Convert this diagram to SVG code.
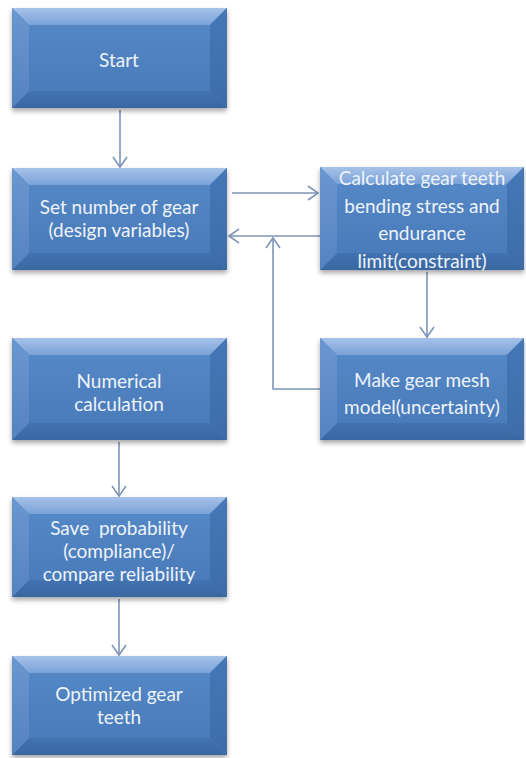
<svg xmlns="http://www.w3.org/2000/svg" width="526" height="758" viewBox="0 0 526 758">
<defs>
<linearGradient id="gTop" x1="0" y1="0" x2="0" y2="1"><stop offset="0" stop-color="#A6C2E8"/><stop offset="1" stop-color="#7AA2D8"/></linearGradient>
<linearGradient id="gBot" x1="0" y1="0" x2="0" y2="1"><stop offset="0" stop-color="#4272B0"/><stop offset="1" stop-color="#3A67A2"/></linearGradient>
<linearGradient id="gLeft" x1="0" y1="0" x2="0" y2="1"><stop offset="0" stop-color="#6B97D0"/><stop offset="1" stop-color="#5583C0"/></linearGradient>
<linearGradient id="gRight" x1="0" y1="0" x2="0" y2="1"><stop offset="0" stop-color="#4677B6"/><stop offset="1" stop-color="#3D6CA9"/></linearGradient>
<linearGradient id="gFace" x1="0" y1="0" x2="0" y2="1"><stop offset="0" stop-color="#5487C5"/><stop offset="1" stop-color="#4A7BBA"/></linearGradient>
<filter id="sh" x="-10%" y="-10%" width="120%" height="130%"><feDropShadow dx="0" dy="3" stdDeviation="2.5" flood-color="#000" flood-opacity="0.35"/></filter>
<marker id="ah" markerUnits="userSpaceOnUse" markerWidth="14" markerHeight="16" viewBox="-11 -8 12 16" refX="0" refY="0" orient="auto">
<path d="M-10,-7 L0,0 L-10,7" fill="none" stroke="#7F95B9" stroke-width="1.6"/>
</marker>
<style>
.base{fill:#4F80BF;filter:url(#sh)}
.top{fill:url(#gTop)}
.bot{fill:url(#gBot)}
.lft{fill:url(#gLeft)}
.rgt{fill:url(#gRight)}
.face{fill:url(#gFace)}
.t{font-family:Lato,"Open Sans","Liberation Sans",sans-serif;font-size:19px;fill:#EEF3FA;text-anchor:middle;white-space:pre}
.c{fill:none;stroke:#7F95B9;stroke-width:1.6}
</style>
</defs>

<g id="connectors">
<line class="c" x1="120" y1="110" x2="120" y2="167" marker-end="url(#ah)"/>
<line class="c" x1="232" y1="193" x2="318" y2="193" marker-end="url(#ah)"/>
<line class="c" x1="320" y1="236" x2="229" y2="236" marker-end="url(#ah)"/>
<polyline class="c" points="320,389 273,389 273,238" marker-end="url(#ah)"/>
<line class="c" x1="427" y1="272" x2="427" y2="337" marker-end="url(#ah)"/>
<line class="c" x1="119" y1="442" x2="119" y2="496" marker-end="url(#ah)"/>
<line class="c" x1="119" y1="599" x2="119" y2="655" marker-end="url(#ah)"/>
</g>

<g id="start">
<rect class="base" x="12" y="8" width="215" height="100"/>
<polygon class="top" points="12,8 227,8 210,25 29,25"/>
<polygon class="bot" points="12,108 227,108 210,91 29,91"/>
<polygon class="lft" points="12,8 29,25 29,91 12,108"/>
<polygon class="rgt" points="227,8 210,25 210,91 227,108"/>
<rect class="face" x="29" y="25" width="181" height="66"/>
<text class="t" x="119" y="67">Start</text>
</g>

<g id="set">
<rect class="base" x="12" y="168" width="215" height="102"/>
<polygon class="top" points="12,168 227,168 210,185 29,185"/>
<polygon class="bot" points="12,270 227,270 210,253 29,253"/>
<polygon class="lft" points="12,168 29,185 29,253 12,270"/>
<polygon class="rgt" points="227,168 210,185 210,253 227,270"/>
<rect class="face" x="29" y="185" width="181" height="68"/>
<text class="t" x="119" y="214">Set number of gear</text>
<text class="t" x="119" y="237">(design variables)</text>
</g>

<g id="numerical">
<rect class="base" x="12" y="338" width="215" height="102"/>
<polygon class="top" points="12,338 227,338 210,355 29,355"/>
<polygon class="bot" points="12,440 227,440 210,423 29,423"/>
<polygon class="lft" points="12,338 29,355 29,423 12,440"/>
<polygon class="rgt" points="227,338 210,355 210,423 227,440"/>
<rect class="face" x="29" y="355" width="181" height="68"/>
<text class="t" x="119" y="388">Numerical</text>
<text class="t" x="119" y="411">calculation</text>
</g>

<g id="save">
<rect class="base" x="12" y="497" width="215" height="100"/>
<polygon class="top" points="12,497 227,497 210,514 29,514"/>
<polygon class="bot" points="12,597 227,597 210,580 29,580"/>
<polygon class="lft" points="12,497 29,514 29,580 12,597"/>
<polygon class="rgt" points="227,497 210,514 210,580 227,597"/>
<rect class="face" x="29" y="514" width="181" height="66"/>
<text class="t" x="119" y="535">Save  probability</text>
<text class="t" x="119" y="558">(compliance)/</text>
<text class="t" x="119" y="581">compare reliability</text>
</g>

<g id="optimized">
<rect class="base" x="12" y="656" width="215" height="99"/>
<polygon class="top" points="12,656 227,656 210,673 29,673"/>
<polygon class="bot" points="12,755 227,755 210,738 29,738"/>
<polygon class="lft" points="12,656 29,673 29,738 12,755"/>
<polygon class="rgt" points="227,656 210,673 210,738 227,755"/>
<rect class="face" x="29" y="673" width="181" height="65"/>
<text class="t" x="119" y="701">Optimized gear</text>
<text class="t" x="119" y="724">teeth</text>
</g>

<g id="calculate">
<rect class="base" x="320" y="167" width="204" height="103"/>
<polygon class="top" points="320,167 524,167 507,184 337,184"/>
<polygon class="bot" points="320,270 524,270 507,253 337,253"/>
<polygon class="lft" points="320,167 337,184 337,253 320,270"/>
<polygon class="rgt" points="524,167 507,184 507,253 524,270"/>
<rect class="face" x="337" y="184" width="170" height="69"/>
<text class="t" x="422" y="185">Calculate gear teeth</text>
<text class="t" x="422" y="213">bending stress and</text>
<text class="t" x="422" y="240">endurance</text>
<text class="t" x="422" y="268">limit(constraint)</text>
</g>

<g id="mesh">
<rect class="base" x="320" y="338" width="204" height="102"/>
<polygon class="top" points="320,338 524,338 507,355 337,355"/>
<polygon class="bot" points="320,440 524,440 507,423 337,423"/>
<polygon class="lft" points="320,338 337,355 337,423 320,440"/>
<polygon class="rgt" points="524,338 507,355 507,423 524,440"/>
<rect class="face" x="337" y="355" width="170" height="68"/>
<text class="t" x="422" y="387">Make gear mesh</text>
<text class="t" x="422" y="414">model(uncertainty)</text>
</g>
</svg>
